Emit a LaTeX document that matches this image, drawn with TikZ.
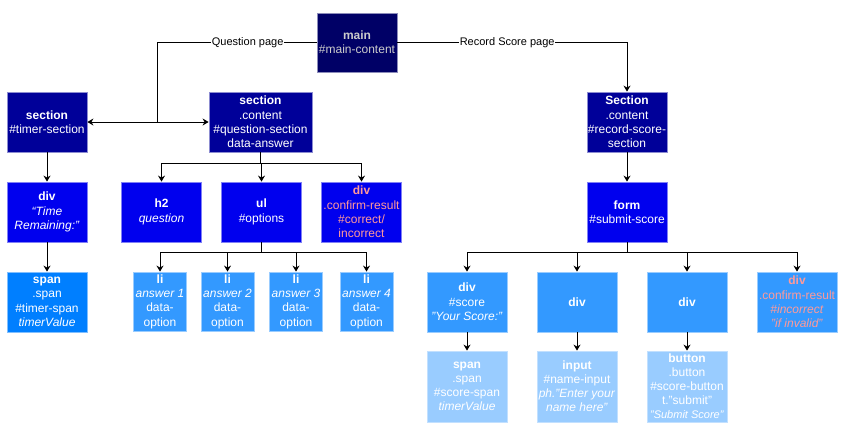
\documentclass[tikz,border=0pt]{standalone}
\usepackage{fontspec}
\setmainfont{Liberation Sans}
\usepackage{xcolor}
\usepackage{tikz}
\usetikzlibrary{shapes,arrows.meta,positioning,calc}

\definecolor{navy0}{HTML}{000066}
\definecolor{navy1}{HTML}{000099}
\definecolor{blue2}{HTML}{0000EE}
\definecolor{blue3}{HTML}{007FFF}
\definecolor{blue4}{HTML}{3399FF}
\definecolor{blue5}{HTML}{99CCFF}
\definecolor{salmon}{HTML}{FF9999}

\begin{document}
\begin{tikzpicture}[
    x=1pt, y=-1pt,
    box/.style={rectangle, align=center, inner sep=0pt, text=white, line width=0.8pt, minimum width=80pt, minimum height=60pt, font=\fontsize{12}{14.4}\selectfont},
    box0/.style={box, fill=navy0, draw=navy0!45!white, text=black!20, minimum height=59pt},
    box1/.style={box, fill=navy1, draw=navy1!45!white},
    box2/.style={box, fill=blue2, draw=blue2!50!white},
    box3/.style={box, fill=blue3, draw=blue3!50!white},
    box4/.style={box, fill=blue4, draw=blue4!50!white},
    box5/.style={box, fill=blue5, draw=blue5!60!white, minimum height=71pt, font=\fontsize{12}{14}\selectfont},
    libox/.style={box4, minimum width=53pt, minimum height=59pt},
    warn/.style={text=salmon},
    arrow/.style={-{Stealth[length=6pt, width=7pt]}, line width=1pt, draw=black},
    lbl/.style={fill=white, inner sep=0.5pt, font=\fontsize{11}{13}\selectfont}
]
    \useasboundingbox (0,0) rectangle (843,437);

    \node [box0] (main) at (357,42.5) {\textbf{main}\\\#main-content};

    \node [box1] (tsec) at (47,122) {\textbf{section}\\\#timer-section};
    \node [box1, minimum width=103pt] (qsec) at (260.5,122) {\textbf{section}\\.content\\\#question-section\\data-answer};
    \node [box1] (rsec) at (627,122) {\textbf{Section}\\.content\\\#record-score-\\section};

    \node [box2] (tdiv) at (47,212) {\textbf{div}\\\textit{“Time}\\\textit{Remaining:"}};
    \node [box2] (h2) at (161.5,212) {\textbf{h2}\\\textit{question}};
    \node [box2] (ul) at (261.5,212) {\textbf{ul}\\\#options};
    \node [box2, warn] (cdiv) at (361.5,212) {\textbf{div}\\.confirm-result\\\#correct/\\incorrect};
    \node [box2] (form) at (627,212) {\textbf{form}\\\#submit-score};

    \node [box3] (tspan) at (47,302) {\textbf{span}\\.span\\\#timer-span\\\textit{timerValue}};
    \node [libox] (li1) at (160,301.5) {\textbf{li}\\\textit{answer 1}\\data-\\option};
    \node [libox] (li2) at (227.5,301.5) {\textbf{li}\\\textit{answer 2}\\data-\\option};
    \node [libox] (li3) at (296,301.5) {\textbf{li}\\\textit{answer 3}\\data-\\option};
    \node [libox] (li4) at (366.5,301.5) {\textbf{li}\\\textit{answer 4}\\data-\\option};

    \node [box4] (sdiv) at (467,302) {\textbf{div}\\\#score\\\textit{"Your Score:"}};
    \node [box4] (ndiv) at (577,302) {\textbf{div}};
    \node [box4] (bdiv) at (687,302) {\textbf{div}};
    \node [box4, warn] (rdiv) at (797,302) {\textbf{div}\\.confirm-result\\\textit{\#incorrect}\\\textit{"if invalid"}};

    \node [box5] (sspan) at (467,386.5) {\textbf{span}\\.span\\\#score-span\\\textit{timerValue}};
    \node [box5] (input) at (577,386.5) {\textbf{input}\\\#name-input\\\textit{ph."Enter your}\\\textit{name here"}};
    \node [box5] (button) at (687,386.5) {\textbf{button}\\.button\\\#score-button\\t."submit"\\{\fontsize{11}{13}\selectfont\textit{"Submit Score"}}};

    \coordinate (qsplit) at (157,122);
    \draw [line width=1pt] (main.west) -| node [lbl, pos=0.216] {Question page} (qsplit);
    \draw [arrow] (qsplit) -- (tsec.east);
    \draw [arrow] (qsplit) -- (qsec.west);
    \draw [arrow] (main.east) -| node [lbl, pos=0.239] {Record Score page} (rsec.north);

    \draw [arrow] (tsec) -- (tdiv);
    \draw [arrow] (tdiv) -- (tspan);
    \foreach \c in {h2,ul,cdiv}
        \draw [arrow] (qsec.south) -- ++(0,11) -| (\c.north);
    \foreach \c in {li1,li2,li3,li4}
        \draw [arrow] (ul.south) -- ++(0,10) -| (\c.north);
    \draw [arrow] (rsec) -- (form);
    \foreach \c in {sdiv,ndiv,bdiv,rdiv}
        \draw [arrow] (form.south) -- ++(0,10) -| (\c.north);
    \draw [arrow] (sdiv) -- (sspan);
    \draw [arrow] (ndiv) -- (input);
    \draw [arrow] (bdiv) -- (button);
\end{tikzpicture}
\end{document}
